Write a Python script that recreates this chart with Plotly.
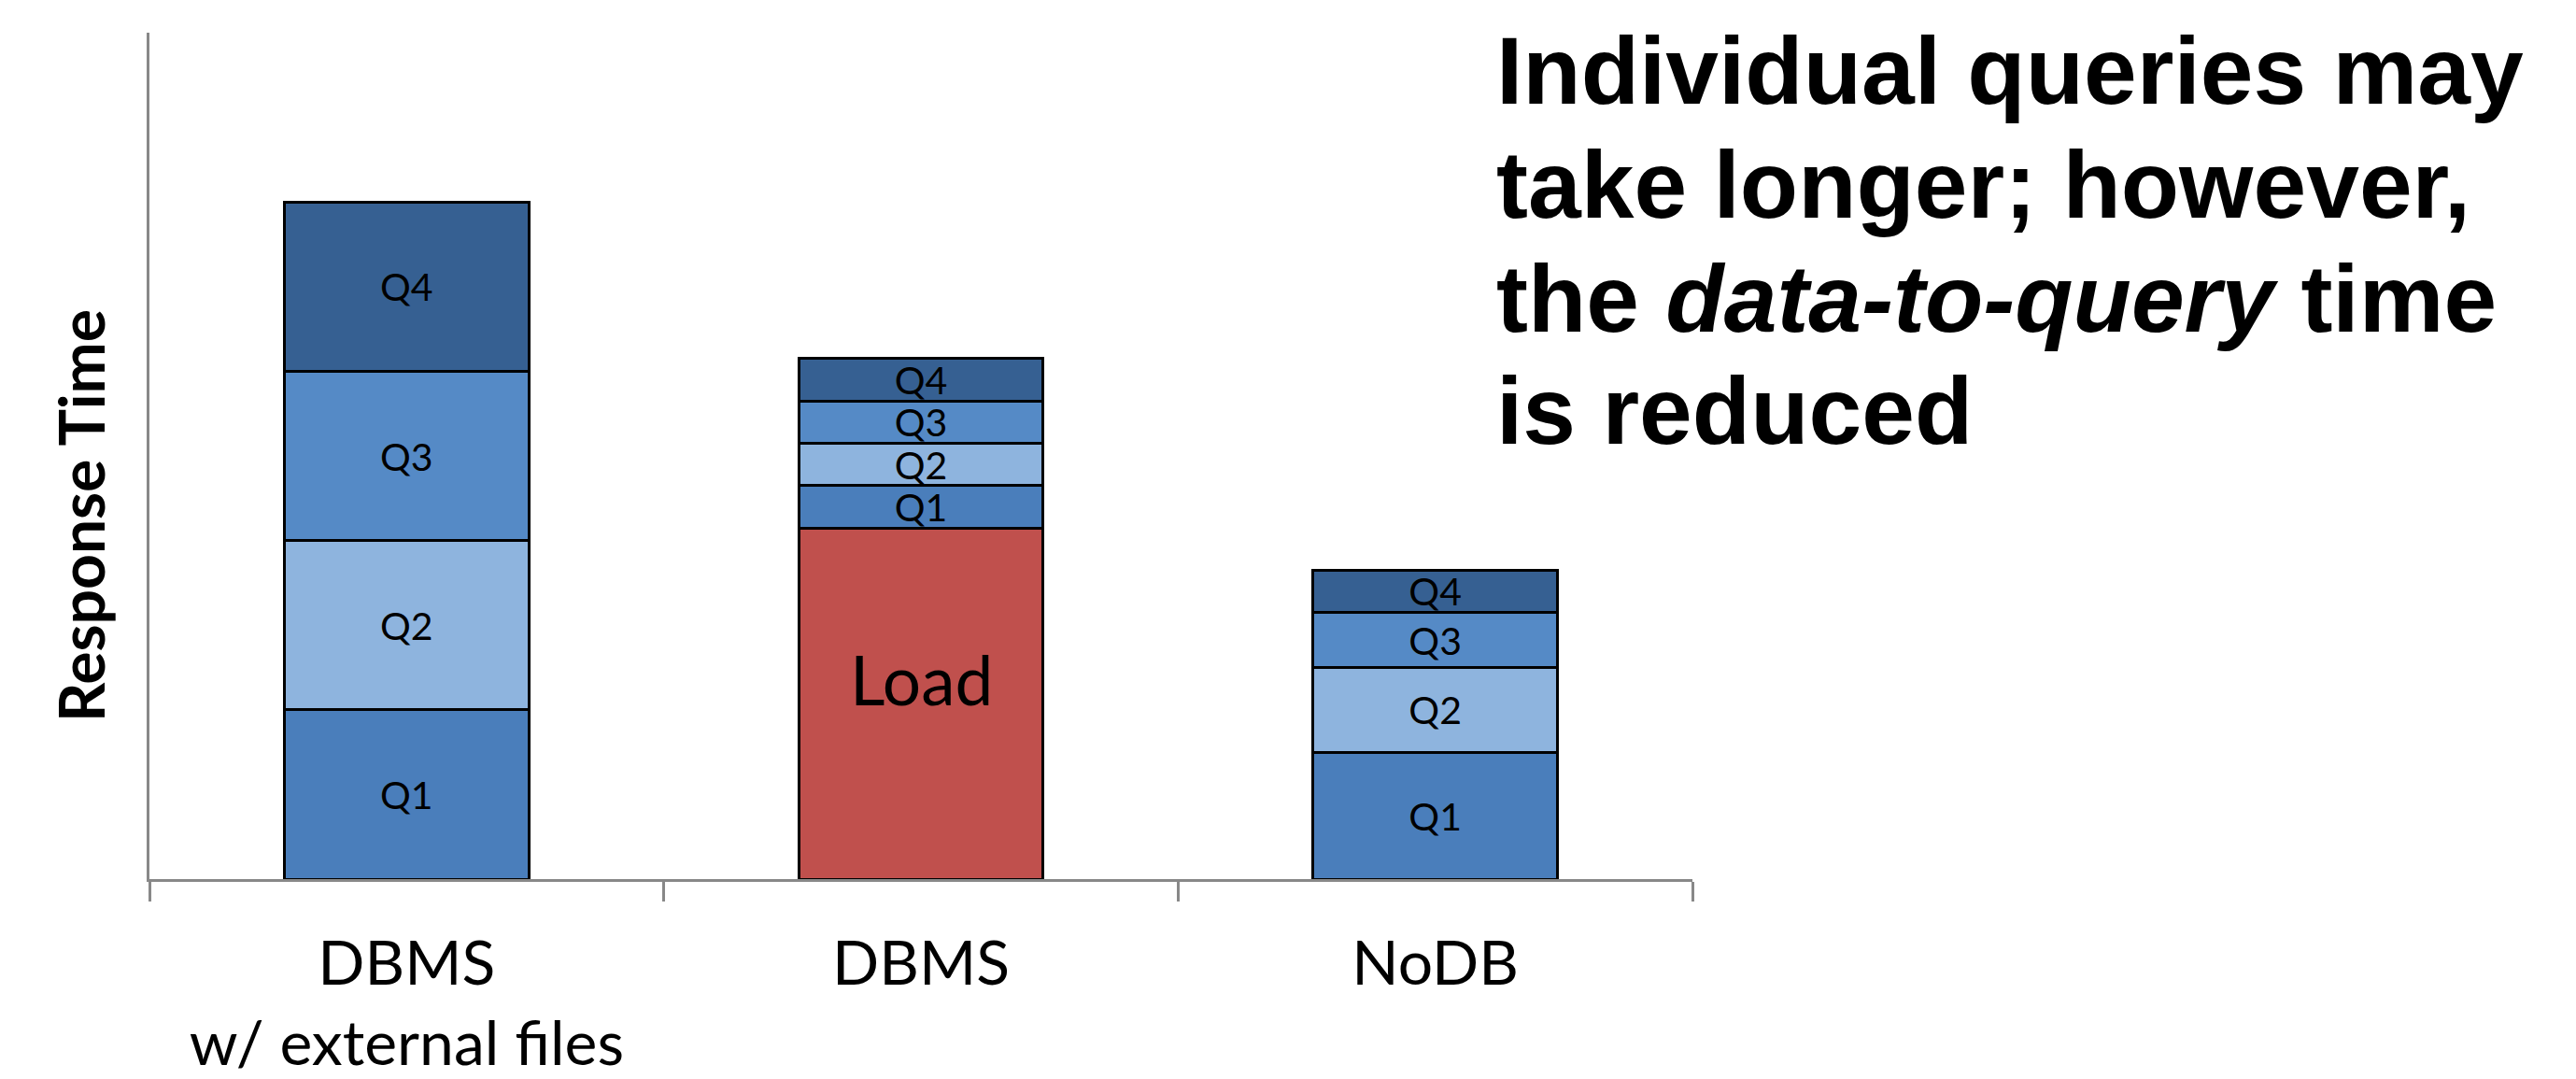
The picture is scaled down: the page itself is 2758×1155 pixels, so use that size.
import plotly.graph_objects as go

# ---- data ----
categories = ["DBMS<br>w/ external files", "DBMS", "NoDB"]
load = [None, 8.3, None]
q1 = [4, 1, 3]
q2 = [4, 1, 2]
q3 = [4, 1, 1.3]
q4 = [4, 1, 1]
series_names = ["Load", "Q1", "Q2", "Q3", "Q4"]
series_values = [load, q1, q2, q3, q4]
series_colors = ["#c0504d", "#4a7ebb", "#8eb4de", "#558ac6", "#366092"]
y_title = "Response Time"
headline = [
    "Individual queries may",
    "take longer; however,",
    "the <i>data-to-query</i> time",
    "is reduced",
]

# the page body margin is removed by a post script, so the figure fills the viewport
W, H = 2758, 1155
PLOT_L, PLOT_T, PLOT_W, PLOT_H = 160, 35, 1652, 906   # absolute screen px
ML, MT = PLOT_L, PLOT_T
MR = W - ML - PLOT_W
MB = H - MT - PLOT_H
PLOT_B = PLOT_T + PLOT_H


def px_x(x):
    return (x - PLOT_L) / PLOT_W


def px_y(y):
    return (PLOT_B - y) / PLOT_H


xs = list(range(len(categories)))

fig = go.Figure()
for name, vals, col in zip(series_names, series_values, series_colors):
    is_load = name == "Load"
    fig.add_trace(go.Bar(
        x=xs, y=vals, name=name,
        width=0.475,
        marker=dict(color=col, line=dict(color="black", width=3)),
        text=["" if (v is None or is_load) else name for v in vals],
        textposition="inside",
        insidetextanchor="middle",
        textangle=0,
        constraintext="none",
        insidetextfont=dict(family="Lato", size=41, color="black"),
        showlegend=False,
        hoverinfo="skip",
    ))

# "Load" label, placed a little above the middle of its segment
for xi, v in zip(xs, load):
    if v is not None:
        fig.add_annotation(
            x=xi, y=v / 2, xref="x", yref="y", text="Load", showarrow=False,
            yshift=26, font=dict(family="Lato", size=73, color="black"),
        )

axis_gray = "#888888"
fig.update_layout(
    width=W, height=H,
    margin=dict(l=ML, r=MR, t=MT, b=MB, pad=0, autoexpand=False),
    barmode="stack",
    plot_bgcolor="white", paper_bgcolor="white",
    xaxis=dict(
        range=[-0.5, len(categories) - 0.5],
        tickmode="array", tickvals=xs, ticktext=categories,
        ticks="", showgrid=False, zeroline=False, automargin=False,
        showline=True, linecolor=axis_gray, linewidth=3,
        tickfont=dict(family="Lato", size=66, color="black"),
        ticklabelstandoff=31,
        minor=dict(tickmode="array", tickvals=[-0.5, 0.5, 1.5, 2.5],
                   ticks="outside", ticklen=21, tickwidth=3, tickcolor=axis_gray,
                   showgrid=False),
    ),
    yaxis=dict(
        range=[0, 20], showticklabels=False, ticks="", showgrid=False,
        zeroline=False, showline=True, linecolor=axis_gray, linewidth=3,
        automargin=False,
    ),
)

# y axis title
fig.add_annotation(
    text=y_title, xref="paper", yref="paper",
    x=px_x(86), y=px_y(552),
    xanchor="center", yanchor="middle", textangle=-90, showarrow=False,
    font=dict(family="Lato", size=66, color="black", weight="bold"),
)

# headline text, one line per annotation
baselines = [111, 233, 355, 475]
for line, base in zip(headline, baselines):
    center_px = base - 0.3465 * 102
    fig.add_annotation(
        text=line, xref="paper", yref="paper",
        x=px_x(1600), y=px_y(center_px),
        xanchor="left", yanchor="middle", showarrow=False,
        font=dict(family="Liberation Sans", size=102, color="black", weight="bold"),
    )

fig.write_html(
    "out.html",
    config={"displayModeBar": False},
    post_script="document.body.style.margin='0';document.body.style.overflow='hidden';",
)
